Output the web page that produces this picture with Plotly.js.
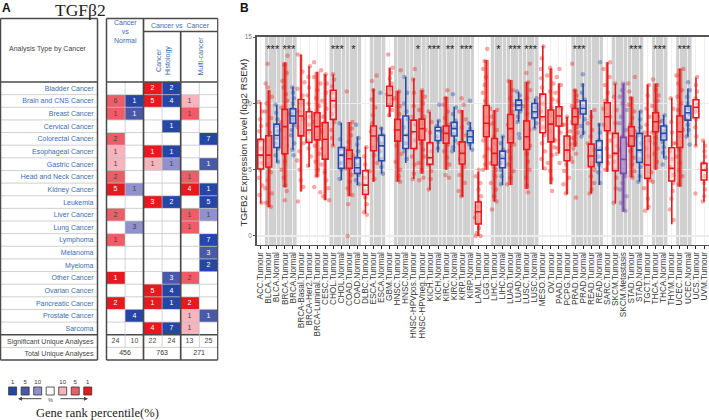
<!DOCTYPE html>
<html><head><meta charset="utf-8">
<script src="https://cdn.plot.ly/plotly-3.0.1.min.js"></script>
<style>html,body{margin:0;padding:0;background:#fff}#c{width:709px;height:420px}</style>
</head><body><div id="c"></div>
<script>
/* ---------- panel A data ---------- */
const cancers = ["Bladder Cancer","Brain and CNS Cancer","Breast Cancer","Cervical Cancer","Colorectal Cancer","Esophageal Cancer","Gastric Cancer","Head and Neck Cancer","Kidney Cancer","Leukemia","Liver Cancer","Lung Cancer","Lymphoma","Melanoma","Myeloma","Other Cancer","Ovarian Cancer","Pancreatic Cancer","Prostate Cancer","Sarcoma"];
const summaryRows = ["Significant Unique Analyses","Total Unique Analyses"];
const significant = [24,10,22,24,13,25];
const totals = [456,763,271];
// analyses per cell (blank = none)
const counts = [
 ["","",2,2,"",""],[6,1,5,4,1,""],[1,1,"","",1,""],["","","",1,"",""],[2,"","","","",7],
 [1,"",1,1,"",""],[1,"",1,1,"",1],[2,"","","",1,""],[5,1,"","",4,1],["","",3,2,"",5],
 [2,"","","",1,1],["",3,"","",1,""],[1,"","","","",7],["","","","","",3],["","","","","",2],
 [1,"","",3,2,""],["","",5,4,"",""],[2,"",1,1,2,""],["",4,"","",1,1],["","",4,7,1,""]];
// rank level per cell: +3 red top 1%, +2 top 5%, +1 top 10%, negative = blue
const levels = [
 [0,0,3,-3,0,0],[2,-3,3,-3,1,0],[2,-2,0,0,2,0],[0,0,0,-3,0,0],[2,0,0,0,0,-3],
 [1,0,3,-3,0,0],[1,0,1,-1,0,-2],[2,0,0,0,2,0],[3,-1,0,0,3,-3],[0,0,3,-3,0,-3],
 [2,0,0,0,2,-1],[0,-1,0,0,2,0],[2,0,0,0,0,-3],[0,0,0,0,0,-2],[0,0,0,0,0,-3],
 [3,0,0,-2,2,0],[0,0,3,-3,0,0],[3,0,3,-3,3,0],[0,-3,0,0,1,-2],[0,0,3,-3,1,0]];
const levelColors = ["#2646a6","#4a58a8","#8f90cc","#ffffff","#f6b4bc","#ee5d67","#e8181e"];
const legendLevels = [-3,-2,-1,0,1,2,3];
const legendLabels = ["1","5","10","","10","5","1"];

/* ---------- panel B data ---------- */
const categories = ["ACC.Tumour","BLCA.Tumour","BLCA.Normal","BRCA.Tumour","BRCA.Normal","BRCA-Basal.Tumour","BRCA-Her2.Tumour","BRCA-Luminal.Tumour","CESC.Tumour","CHOL.Tumour","CHOL.Normal","COAD.Tumour","COAD.Normal","DLBC.Tumour","ESCA.Tumour","ESCA.Normal","GBM.Tumour","HNSC.Tumour","HNSC.Normal","HNSC-HPVpos.Tumour","HNSC-HPVneg.Tumour","KICH.Tumour","KICH.Normal","KIRC.Tumour","KIRC.Normal","KIRP.Tumour","KIRP.Normal","LAML.Tumour","LGG.Tumour","LIHC.Tumour","LIHC.Normal","LUAD.Tumour","LUAD.Normal","LUSC.Tumour","LUSC.Normal","MESO.Tumour","OV.Tumour","PAAD.Tumour","PCPG.Tumour","PRAD.Tumour","PRAD.Normal","READ.Tumour","READ.Normal","SARC.Tumour","SKCM.Tumour","SKCM.Metastasis","STAD.Tumour","STAD.Normal","TGCT.Tumour","THCA.Tumour","THCA.Normal","THYM.Tumour","UCEC.Tumour","UCEC.Normal","UCS.Tumour","UVM.Tumour"];
const lowerFence = [2.46,2.16,5.55,3.67,6.5,3.35,5.2,4.47,2.7,6.8,4.2,3,3.85,1.7,4.1,4.7,9,4.1,5.5,4.3,4.7,3.47,6.3,5,6.35,2.96,6.5,0,5,2.6,3.84,3.84,8.62,3.54,8.1,5,3.9,6.23,3.14,6.73,7.6,3.2,3.84,4.85,2.46,1.83,4.42,4.1,1.96,5,5.85,0.88,3.72,7.49,6.8,2.59];
const q1 = [5.05,5.2,6.68,6.2,8.5,7.55,7.06,7.25,5.8,8.8,5.1,5.1,4.72,3.14,6.43,5.68,9.8,7.16,6.6,6.6,7.24,5.4,7.2,7,7.54,5.43,7.03,0.9,7.49,5.35,5.15,7.03,9.5,6.53,8.92,7.79,7.1,8.3,5.68,8.42,9.2,5.23,5.55,7.94,4.92,4.72,6.78,5.55,4.35,7.86,7.24,4.15,6.68,8.74,8.92,4.22];
const medians = [6.1,6.1,7.6,8.25,9.05,9.05,8,8.25,7.3,10.2,6.1,5.83,5.15,3.84,7.54,6.8,10.6,8,7.6,7.86,8.1,5.9,7.94,7.74,8.1,6.23,7.49,1.83,8.5,6.23,5.85,8.1,9.87,7.49,9.37,9,8.44,9.05,6.48,9,9.62,6.03,6.48,9,6.23,5.78,7.54,6.48,5.35,8.62,7.74,5.1,7.86,9.3,9.7,4.97];
const q3 = [7.29,7.56,8.44,9.55,9.6,10.3,9.37,9.3,8.55,11,6.68,6.48,5.9,4.92,8.3,7.6,11.3,8.8,9.05,8.74,8.82,7.03,8.2,8.3,8.57,7.1,7.94,2.56,9.85,7.36,6.4,9.17,10.25,8.67,10,10.7,9.5,9.75,7.54,9.62,10.2,6.93,7.18,10.05,7.74,7.44,8.24,7.74,7.54,9.3,8.3,6.66,9.05,9.8,10.28,5.48];
const upperFence = [10.1,11,9.9,13.1,11.25,13.7,12.8,12.4,12.2,12.2,8.55,8.6,7.5,6.73,11.1,8.2,12.7,10.95,12,11.9,11,9.37,8.74,10.5,9.75,9.5,8.6,4.85,13.27,9.5,7.54,11.76,10.88,11.63,10.38,14.35,12.64,11.5,9,11.05,11.5,9.5,8.5,13.1,11.5,11.5,10.5,9.45,11.43,11.5,9.12,10.43,12.64,11.13,11.96,7.19];
const sampleCounts = [79,408,19,1093,112,191,82,566,304,36,9,457,41,48,184,11,153,520,44,97,421,66,25,533,72,290,32,173,516,371,50,515,59,501,51,87,303,178,179,497,52,166,10,259,103,368,415,35,150,501,59,120,545,35,57,80];
const samplePoints = [
[10.1,9.4,8.8,8.3,7.9,7.2,6.6,6,5.5,5,4.4,3.8,3.1,2.5],
[13,11.5,11.2,10.5,10,9.4,8.9,8.4,7.8,7.2,6.6,6,5.4,4.8,4.2,3.6,3.2,2.5,2.2],
[9.9,9.3,8.8,8.3,7.9,7.4,7,6.6,6.1,5.6],
[13.6,12.9,12.3,11.7,11.2,10.7,10.2,9.7,9.2,8.6,8,7.4,6.8,6.2,5.6,5,4.4,3.8,3.4,2.7],
[11.2,10.8,10.4,10,9.6,9.2,8.8,8.4,8,7.6,7,6.5,6.1],
[13.7,12.4,11.6,11.1,10.6,10,9.4,8.8,8.2,7.6,7,6.4,5.7,5,4.2,3.7,2.6],
[12.8,12,11.2,10.6,10,9.5,9,8.4,7.8,7.2,6.6,6,5.3],
[13.1,12.5,12,11.5,11,10.4,9.8,9.2,8.6,8,7.4,6.8,6.2,5.6,5,4.5,3.7,3.3],
[12.2,11.5,10.8,10.2,9.6,9,8.4,7.8,7.2,6.6,6,5.4,4.8,4.2,3.6,3,2.7],
[12.2,11.8,11.3,10.8,10.3,9.8,9.2,8.6,8,7.4,6.8],
[8.5,7.3,6.6,6.1,5.5,5,4.3],
[10.9,8.6,8.1,7.6,7.1,6.6,6.1,5.6,5.1,4.6,4.1,3.6,3.1,2.4,0],
[8.4,7.4,6.9,6.4,5.9,5.4,5,4.6,4.2,3.9],
[6.7,6,5.4,4.9,4.4,3.9,3.4,2.9,2.4,1.8,1.6],
[12.1,11.7,11,10.3,9.7,9.1,8.5,7.9,7.3,6.7,6.1,5.5,4.9,4.3],
[10.8,8.1,7.6,7,6.4,5.8,5.2,4.7],
[13.7,12.7,12.3,11.9,11.5,11.1,10.7,10.3,9.9,9.5,9.1],
[12.5,10.9,10.4,9.8,9.2,8.6,8,7.4,6.8,6.2,5.6,5,4.5,4.1],
[12,10.8,10,9.4,8.8,8.2,7.6,7,6.4,5.8],
[12.6,11.8,10.8,9.8,9,8.4,7.8,7.2,6.6,6,5.4,4.7,4.3],
[11,10.5,10,9.5,9,8.5,8,7.5,7,6.5,6,5.5,5,4.4,4.2],
[9.4,8.6,7.8,7,6.4,5.9,5.4,4.9,4.3,3.5],
[9.9,8.7,8.3,7.9,7.5,7.1,6.6],
[11,10.4,9.9,9.4,8.9,8.4,7.9,7.4,6.9,6.4,5.9,5.4,4.6,4.4],
[10.7,9.7,9.2,8.7,8.2,7.7,7.2,6.7,6.4],
[10.4,9.9,9.4,8.8,8.2,7.6,7,6.4,5.8,5.2,4.6,4,3.4,3],
[10.2,8.5,8.1,7.7,7.3,6.9,6.5],
[5,4.5,4,3.5,3,2.6,2.2,1.8,1.4,1,0.6,0.2,0,0],
[14.1,13.2,12.6,12,11.4,10.8,10.2,9.6,9,8.4,7.8,7.2,6.6,6,5.4,5],
[9.5,9,8.5,8,7.5,7,6.5,6,5.5,5,4.5,4,3.5,3,2.6,2],
[7.5,7,6.5,6,5.5,5,4.5,3.9],
[11.7,11,10.4,9.9,9.4,8.9,8.4,7.9,7.4,6.9,6.4,5.9,5.4,4.9,4.4,3.9],
[10.9,10.6,10.2,9.8,9.4,9,8.6,7.7,7.4],
[13,12.3,11.6,11,10.4,9.8,9.2,8.6,8,7.4,6.8,6.2,5.6,5,4.4,3.8,3.3],
[10.4,10.1,9.7,9.3,8.9,8.5,8.1],
[14.3,13.4,12.6,11.9,11.2,10.6,10,9.4,8.8,8.2,7.6,7,6.4,5.8,5.1],
[12.7,12.1,11.5,10.9,10.3,9.7,9.1,8.5,7.9,7.3,6.7,6.1,5.5,4.9,4.3,3.4],
[12.6,12,11.4,10.8,10.2,9.6,9,8.4,7.8,7.2,6.6,6.2,5.5],
[9,8.4,7.9,7.4,6.9,6.4,5.9,5.4,4.9,4.4,3.9,3.2],
[13,11,10.6,10.2,9.8,9.4,9,8.6,8.2,7.8,7.4,7,6.6,6.2,5.6,2.9],
[12.2,11.4,10.8,10.3,9.8,9.3,8.8,8.3,7.8,7.5],
[9.5,9,8.5,8,7.5,7,6.5,6,5.5,5,4.5,4,3.5,3.2],
[13.1,8.4,7.8,7.2,6.6,6,5.4,4.8,4],
[13.1,12.6,12,11.4,10.8,10.2,9.6,9,8.4,7.8,7.2,6.6,6,5.5,5],
[11.5,10.5,9.5,8.5,7.5,6.8,6.2,5.6,5,4.4,3.6,2.5],
[11.5,11,10.5,10,9.5,9,8.5,8,7.5,7,6.5,6,5.5,5,4.5,4,3.5,3,2.5,1.9],
[12,11.5,10.9,10.4,9.9,9.4,8.9,8.4,7.9,7.4,6.9,6.4,5.9,5.4,4.9,4.4],
[9.4,8.8,8.2,7.6,7,6.4,5.8,5.2,4.5,4.1],
[11.4,10.6,9.6,9,8.4,7.8,7.2,6.6,6,5.4,4.8,4.2,3.6,2.8,2.2,1.9],
[11.8,11.4,11,10.6,10.2,9.8,9.4,9,8.6,8.2,7.8,7.4,7,6.6,6.2,5.6,4.1],
[9.1,8.7,8.3,7.9,7.5,7.1,6.7,6.3,5.9,5.4],
[10.4,9.6,8.6,7.8,7,6.4,5.8,5.2,4.6,4,3.4,2.8,2,1.2],
[12.6,12.1,11.5,11,10.5,10,9.5,9,8.5,8,7.5,7,6.5,6,5.5,5,4.5,3.9],
[11.6,11,10.5,10,9.6,9.2,8.8,8.4,8,7.5,6.9],
[12,11.4,10.9,10.4,9.9,9.4,8.8,8.2,7.5,6.8,3.2],
[7.2,6.8,6.4,6,5.5,5,4.5,4,3.5,3,2.6]];
const groupFirst = ["BLCA.Tumour","BRCA.Tumour","CHOL.Tumour","COAD.Tumour","ESCA.Tumour","HNSC.Tumour","HNSC-HPVpos.Tumour","KICH.Tumour","KIRC.Tumour","KIRP.Tumour","LIHC.Tumour","LUAD.Tumour","LUSC.Tumour","PRAD.Tumour","READ.Tumour","SKCM.Tumour","STAD.Tumour","THCA.Tumour","UCEC.Tumour"];
const groupStars = ["***","***","***","*","","","*","***","**","***","*","***","***","***","","","***","***","***"];

/* ---------- helpers ---------- */
const W=709,H=420;
const px=x=>x/W, py=y=>1-y/H;
const RED="#e8191c",BLUE="#2a4bab",PURPLE="#7a4aa8";
const kind=c=>c.endsWith("Normal")?"n":(c.endsWith("Metastasis")?"m":"t");
const colorOf={t:RED,n:BLUE,m:PURPLE};
const rgbaOf={t:"rgba(232,40,30,",n:"rgba(42,75,171,",m:"rgba(122,74,168,"};
const shapes=[],annotations=[];
function line(x0,y0,x1,y1,color,w,layer){shapes.push({type:"line",xref:"paper",yref:"paper",x0:px(x0),x1:px(x1),y0:py(y0),y1:py(y1),line:{color:color,width:w},layer:layer||"above"});}
function note(text,x,y,o){annotations.push(Object.assign({text:text,x:px(x),y:py(y),xref:"paper",yref:"paper",showarrow:false,xanchor:"center",yanchor:"middle",font:{family:"Liberation Sans",size:7,color:"#3a6db0"}},o||{}));}

const traces=[];
/* panel B: grey bands */
groupFirst.forEach(g=>{const i=categories.indexOf(g);
  shapes.push({type:"rect",xref:"x",yref:"paper",x0:i-0.46,x1:i+1.46,y0:py(245),y1:py(36.5),fillcolor:"#d0d0d0",line:{width:0},layer:"below"});
});
/* density columns: width and tint grow with the sample count */
const cloud=categories.map((c,i)=>sampleCounts[i]>=140);
const cx=categories.filter((c,i)=>cloud[i]);
const pick=a=>a.filter((v,i)=>cloud[i]);
traces.push({type:"bar",x:cx,base:pick(lowerFence),y:pick(upperFence.map((u,i)=>u-lowerFence[i])),
  width:pick(sampleCounts.map(n=>Math.min(0.62,0.18+n/1100))),
  marker:{color:cx.map(c=>rgbaOf[kind(c)]+"0.55)"),line:{width:0}},hoverinfo:"skip",showlegend:false});
traces.push({type:"bar",x:categories,base:q1,y:q3.map((u,i)=>u-q1[i]),width:0.7,
  marker:{color:categories.map((c,i)=>rgbaOf[kind(c)]+Math.min(0.5,0.04+sampleCounts[i]/800)+")"),line:{width:0}},hoverinfo:"skip",showlegend:false});
/* sample dots by colour and by density tier */
["t","n","m"].forEach(k=>{[true,false].forEach(dense=>{
  const xs=[],ys=[];
  categories.forEach((c,i)=>{if(kind(c)===k&&(sampleCounts[i]>=140)===dense)samplePoints[i].forEach(v=>{xs.push(c);ys.push(v);});});
  if(!xs.length)return;
  traces.push({type:"box",x:xs,y:ys,boxpoints:"all",jitter:dense?1:0.7,pointpos:0,width:dense?1:0.7,
    line:{width:0,color:"rgba(0,0,0,0)"},fillcolor:"rgba(0,0,0,0)",
    marker:{color:rgbaOf[k]+"0.4)",size:4.5,line:{width:0}},hoverinfo:"skip",showlegend:false});
});});
["t","n","m"].forEach(k=>{
  const sel=categories.map((c,i)=>kind(c)===k?i:-1).filter(i=>i>=0);
  const g=a=>sel.map(i=>a[i]);
  traces.push({type:"box",x:sel.map(i=>categories[i]),q1:g(q1),median:g(medians),q3:g(q3),lowerfence:g(lowerFence),upperfence:g(upperFence),
    boxpoints:false,width:0.72,whiskerwidth:0,line:{color:colorOf[k],width:1.6},fillcolor:"rgba(255,255,255,0.35)",hoverinfo:"skip",showlegend:false});
});
/* significance stars, on a linear twin of the category axis */
const starIdx=groupFirst.map((g,i)=>i).filter(i=>groupStars[i]);
traces.push({type:"scatter",mode:"text",xaxis:"x4",yaxis:"y",
  x:starIdx.map(i=>categories.indexOf(groupFirst[i])+0.5),
  y:starIdx.map(()=>14.05),text:starIdx.map(i=>groupStars[i]),textposition:"middle center",
  textfont:{family:"Liberation Sans",size:11,color:"#222"},hoverinfo:"skip",showlegend:false});

/* panel A heat table */
const rowLabels=cancers.concat(summaryRows);
const zGrid=levels.concat([[0,0,0,0,0,0],[0,0,0,0,0,0]]);
const tGrid=counts.concat([significant,["","","","","",""]]);
const nLev=levelColors.length;
const cs=[];levelColors.forEach((c,i)=>{cs.push([i/nLev,c]);cs.push([(i+1)/nLev,c]);});
traces.push({type:"heatmap",xaxis:"x2",yaxis:"y2",x:[0,1,2,3,4,5],y:rowLabels,z:zGrid,text:tGrid,texttemplate:"%{text}",
  textfont:{family:"Liberation Sans",size:7},colorscale:cs,zmin:-3.5,zmax:3.5,showscale:false,hoverinfo:"skip"});
traces.push({type:"scatter",mode:"text",xaxis:"x2",yaxis:"y2",x:[0.5,2.5,4.5],y:totals.map(()=>summaryRows[1]),text:totals.map(String),
  textfont:{family:"Liberation Sans",size:7,color:"#333"},hoverinfo:"skip",showlegend:false});
/* legend swatches */
traces.push({type:"scatter",mode:"markers+text",xaxis:"x3",yaxis:"y3",x:legendLevels,y:legendLevels.map(()=>0),text:legendLabels,textposition:"top center",
  textfont:{family:"Liberation Sans",size:6,color:"#333"},
  marker:{symbol:"square",size:8,color:legendLevels.map(l=>levelColors[l+3]),line:{color:"#333",width:0.8}},hoverinfo:"skip",showlegend:false});

/* table lines */
const DK="#4a4a4a",LT="#c4c4c4";
const headTop=18.5,headBot=82,pitch=(360-82)/22;
for(let r=1;r<22;r++){const y=headBot+r*pitch;const c=(r===20)?DK:LT,w=(r===20)?1.3:0.8;line(0,y,97.5,y,c,w);line(106.5,y,217.7,y,c,w);}
[125.1,162.1,199.4].forEach(x=>line(x,82,x,347,LT,0.7));
line(0.5,headTop,97.5,headTop,DK,1.5);line(0.5,headTop,0.5,360,DK,1.5);line(97.5,headTop,97.5,360,DK,1.5);line(0.5,360,97.5,360,DK,1.5);line(0.5,headBot,97.5,headBot,DK,1.5);
line(106.5,headTop,217.7,headTop,DK,1.3);line(106.5,headTop,106.5,360,DK,1.5);line(217.7,headTop,217.7,360,DK,1.2);line(106.5,360,217.7,360,DK,1.5);line(106.5,headBot,217.7,headBot,DK,1.5);
line(143.5,headTop,143.5,360,DK,1.7);line(180.7,31.5,180.7,360,DK,1.7);line(143.5,31.5,217.7,31.5,DK,1.3);

/* texts */
note("Analysis Type by Cancer",48,49,{font:{family:"Liberation Sans",size:7,color:"#444"}});
note("Cancer<br>vs<br>Normal",125,32);
note("Cancer vs  Cancer",180.5,25);
note("Cancer<br>Histology",163,61,{textangle:-90});
note("Multi-cancer",200.5,56,{textangle:-90});
note("TGFβ2",80,10,{font:{family:"Liberation Serif",size:17.5,color:"#222"}});
note("A",6.5,8,{font:{family:"Liberation Sans",size:12,color:"#111",weight:700}});
note("B",244.5,8,{font:{family:"Liberation Sans",size:12,color:"#111",weight:700}});
note("Gene rank percentile(%)",97.5,413,{font:{family:"Liberation Serif",size:12.5,color:"#222"}});
note("%",50.5,399.5,{font:{family:"Liberation Sans",size:5.5,color:"#444"}});
note("TGFB2 Expression Level (log2 RSEM)",242.5,143,{textangle:-90,font:{family:"Liberation Sans",size:9.8,color:"#333"}});
[[43,18],[59,88]].forEach(a=>annotations.push({x:px(a[1]),y:py(398.7),ax:px(a[0]),ay:py(398.7),xref:"paper",yref:"paper",axref:"paper",ayref:"paper",text:"",showarrow:true,arrowhead:2,arrowsize:0.8,arrowwidth:1,arrowcolor:"#444"}));

const layout={width:W,height:H,margin:{l:0,r:0,t:0,b:0},paper_bgcolor:"#fff",plot_bgcolor:"#fff",showlegend:false,barmode:"overlay",boxmode:"overlay",
 shapes:shapes,annotations:annotations,
 xaxis:{domain:[px(256.5),px(708.7)],type:"category",categoryorder:"array",categoryarray:categories,range:[-0.52,55.58],tickmode:"array",tickvals:categories,ticktext:categories,tickangle:-90,
   tickfont:{family:"Liberation Sans",size:8.2,color:"#3a3a3a"},ticks:"outside",ticklen:2.5,tickcolor:"#222",tickwidth:1,showline:true,linecolor:"#555",linewidth:1.3,mirror:true,
   showgrid:true,gridcolor:"#f0f0f0",gridwidth:1,zeroline:false,anchor:"y",automargin:false},
 xaxis4:{domain:[px(256.5),px(708.7)],range:[-0.52,55.58],overlaying:"x",anchor:"y",visible:false},
 yaxis:{domain:[py(245),py(36.5)],range:[-0.68,15.05],tickvals:[0,5,10,15],ticktext:["0","5","10","15"],tickfont:{family:"Liberation Sans",size:6.5,color:"#777"},
   ticks:"outside",ticklen:2,tickcolor:"#555",showline:true,linecolor:"#555",linewidth:1.3,mirror:true,showgrid:true,gridcolor:"#ececec",gridwidth:1.2,zeroline:false,anchor:"x",automargin:false},
 xaxis2:{domain:[px(106.5),px(217.7)],range:[-0.5,5.5],anchor:"y2",showgrid:false,zeroline:false,showticklabels:false,ticks:""},
 yaxis2:{domain:[py(360),py(82)],type:"category",categoryorder:"array",categoryarray:rowLabels,range:[21.5,-0.5],anchor:"x2",tickmode:"array",tickvals:rowLabels,
   ticktext:cancers.concat(summaryRows.map(s=>'<span style="color:#444">'+s+'</span>')),ticks:"",ticklabelstandoff:12,tickfont:{family:"Liberation Sans",size:7,color:"#3a6db0"},showgrid:false,zeroline:false,automargin:false},
 xaxis3:{domain:[px(8),px(93)],range:[-3.37,3.42],anchor:"y3",visible:false},
 yaxis3:{domain:[py(400),py(375)],range:[-0.72,1.28],anchor:"x3",visible:false}
};
Plotly.newPlot("c",traces,layout,{displayModeBar:false,staticPlot:true});
</script></body></html>
